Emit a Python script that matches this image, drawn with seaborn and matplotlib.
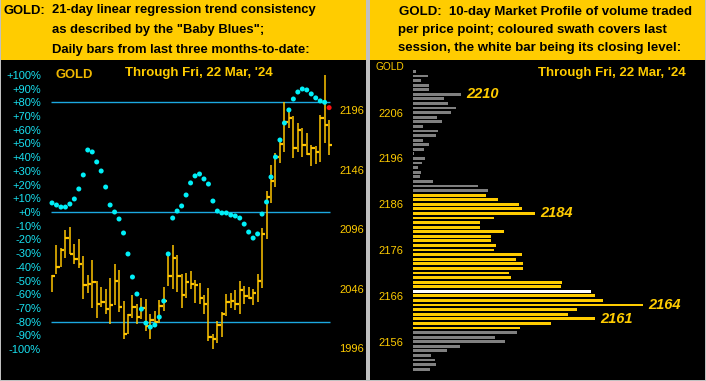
import numpy as np
import pandas as pd
import matplotlib
matplotlib.use("Agg")
import matplotlib.pyplot as plt
import seaborn as sns

# ---------------- data ----------------
bar_high = [2057.5, 2082.4, 2079.9, 2095.0, 2097.8, 2083.5, 2087.7, 2073.4, 2057.5, 2070.1,
            2052.5, 2047.4, 2045.7, 2054.7, 2066.7, 2061.7, 2035.7, 2024.8, 2040.7, 2032.9,
            2038.4, 2037.4, 2024.8, 2027.0, 2036.5, 2047.2, 2075.1, 2082.4, 2074.3, 2058.3,
            2058.9, 2060.8, 2053.3, 2050.5, 2040.7, 2046.6, 2008.0, 2018.7, 2026.5, 2041.6,
            2042.6, 2044.9, 2052.5, 2048.3, 2047.7, 2046.0, 2058.3, 2096.7, 2128.0, 2149.5,
            2160.1, 2170.7, 2202.4, 2195.3, 2190.9, 2185.0, 2180.6, 2176.4, 2166.5, 2165.7,
            2191.7, 2225.3, 2187.3]
bar_low = [2043.0, 2058.1, 2064.5, 2072.0, 2074.9, 2066.7, 2063.6, 2037.6, 2042.6, 2030.1,
           2021.7, 2030.9, 2024.8, 2016.6, 2032.3, 2026.7, 2004.1, 2008.0, 2021.7, 2016.6,
           2020.3, 2010.8, 2003.6, 2015.3, 2017.0, 2027.5, 2048.5, 2046.0, 2043.5, 2030.1,
           2038.2, 2045.7, 2034.3, 2033.4, 2024.8, 2002.1, 1995.7, 2000.7, 2005.7, 2023.3,
           2029.6, 2028.1, 2024.8, 2033.4, 2037.4, 2032.3, 2035.1, 2046.6, 2087.7, 2118.1,
           2131.3, 2151.7, 2160.4, 2181.1, 2155.9, 2160.9, 2156.7, 2158.2, 2149.2, 2150.4,
           2152.5, 2168.5, 2158.2]
bar_close = [2056.9, 2064.5, 2078.5, 2088.5, 2075.4, 2070.9, 2067.0, 2049.4, 2049.9, 2051.9,
             2033.2, 2035.1, 2029.2, 2032.3, 2052.7, 2030.9, 2008.0, 2024.2, 2030.9, 2022.5,
             2029.8, 2014.5, 2019.7, 2017.8, 2031.7, 2035.9, 2056.9, 2072.0, 2056.9, 2040.7,
             2051.9, 2050.2, 2049.1, 2038.4, 2033.2, 2005.2, 2004.1, 2015.5, 2024.8, 2035.1,
             2035.9, 2033.2, 2044.9, 2040.1, 2038.4, 2042.6, 2052.7, 2091.6, 2123.2, 2136.6,
             2156.5, 2167.6, 2186.1, 2189.5, 2164.3, 2179.4, 2166.8, 2159.0, 2164.0, 2160.9,
             2189.5, 2183.3, 2166.5]
trend_pct = [6.6, 5.1, 3.6, 3.6, 5.8, 9.5, 16.8, 27.0, 45.2, 43.8,
             36.5, 29.9, 18.2, 5.1, 0.0, -5.1, -15.3, -30.6, -47.4, -59.8,
             -70.8, -81.0, -83.9, -82.4, -76.6, -64.9, -30.6, -4.4, 0.7, 4.4,
             12.4, 21.2, 26.3, 27.7, 24.1, 20.4, 8.0, 0.7, -0.7, -0.7,
             -2.2, -2.9, -4.4, -8.8, -14.6, -19.0, -16.0, -1.5, 7.3, 25.5,
             40.1, 52.5, 64.9, 74.4, 82.4, 87.5, 89.7, 89.0, 86.1, 83.2,
             81.0, 80.0, 76.1]
month_labels = ["Dec'23", "Jan'24", "Feb'24"]
month_pos = [0, 21, 42]
pct_ticks = list(range(-100, 101, 10))
pct_levels = [80, 0, -80]
price_ticks = [1996, 2046, 2096, 2146, 2196]

mp_price = list(range(2215, 2149, -1))
mp_volume = [3, 15, 8, 16, 16, 48, 31, 35, 43, 38,
             24, 29, 10, 25, 23, 10, 16, 11, 1, 12,
             9, 5, 8, 7, 20, 65, 75, 73, 85, 106,
             109, 122, 81, 67, 67, 91, 78, 78, 83, 81,
             109, 103, 110, 110, 96, 98, 149, 148, 178, 182,
             190, 230, 164, 155, 182, 138, 107, 104, 82, 92,
             47, 34, 18, 22, 23, 17]
last_session_range = (2159, 2188)
close_level = 2167
mp_ticks = [2156, 2166, 2176, 2186, 2196, 2206]
mp_callouts = [2210, 2184, 2164, 2161]

# ---------------- style ----------------
plt.rcParams['font.family'] = ['Liberation Sans', 'DejaVu Sans']
GRAY_BG = '#C0C0C0'
HEAD = '#FFCC00'
CYAN_TXT = '#18E0F0'
CYAN_DOT = '#00F0F8'
LINE = '#1CA8E0'
BAR = '#FFC400'
YEL = '#FFCC00'

W, H = 706, 381
fig = plt.figure(figsize=(W / 100, H / 100), dpi=100, facecolor=GRAY_BG)


def px_axes(x0, y0, x1, y1, fc):
    ax = fig.add_axes([x0 / W, 1 - y1 / H, (x1 - x0) / W, (y1 - y0) / H])
    ax.set_facecolor(fc)
    for s in ax.spines.values():
        s.set_visible(False)
    return ax


def px_text(x, y, s, **kw):
    fig.text(x / W, 1 - y / H, s, **kw)


# ---------------- headers ----------------
for (x0, x1) in [(1, 366), (370, 705)]:
    h = px_axes(x0, 0, x1, 59.5, HEAD)
    h.set_xticks([]); h.set_yticks([])

hkw = dict(color='black', weight='bold', fontsize=9.4, va='baseline')
px_text(4, 13.5, "GOLD:", **hkw)
px_text(52, 13.5, "21-day linear regression trend consistency", **hkw)
px_text(52, 33.0, 'as described by the "Baby Blues";', **hkw)
px_text(52, 52.5, "Daily bars from last three months-to-date:", **hkw)
hkw2 = dict(hkw, fontsize=9.5)
px_text(399, 14.5, "GOLD:  10-day Market Profile of volume traded", **hkw2)
px_text(398, 33.0, "per price point; coloured swath covers last", **hkw2)
px_text(398, 51.0, "session, the white bar being its closing level:", **hkw2)

# ---------------- left chart ----------------
n = len(bar_close)
idx = np.arange(n)
axp = px_axes(1, 59.5, 366, 380, 'black')
axp.set_xlim(-11.41, 70.25)
axp.set_ylim(-122.5, 111.2)
axp.hlines(pct_levels, -0.3, n - 0.7, color=LINE, lw=1.0)
axp.set_yticks(pct_ticks, labels=[f"{v:+d}%" for v in pct_ticks])
axp.tick_params(axis='y', length=0, pad=-40 * 0.72, labelcolor=CYAN_TXT, labelsize=8.0)
axp.set_xticks(month_pos, labels=month_labels)
axp.tick_params(axis='x', length=0, pad=-21 * 0.72, labelcolor='white', labelsize=8.0)

axq = axp.twinx()
for s in axq.spines.values():
    s.set_visible(False)
axq.set_ylim(1969.4, 2238.3)
axq.vlines(idx, bar_low, bar_high, color=BAR, lw=1.1)
axq.hlines(bar_close, idx, idx + 0.75, color=BAR, lw=1.6)
axq.set_yticks(price_ticks, labels=[str(p) for p in price_ticks])
axq.tick_params(axis='y', length=0, pad=-27 * 0.72, labelcolor=YEL, labelsize=8.0)

axd = axp.twinx()
for s in axd.spines.values():
    s.set_visible(False)
axd.set_ylim(axp.get_ylim())
axd.set_yticks([])
dots = pd.DataFrame({"i": idx, "pct": trend_pct,
                     "kind": ["latest" if k == n - 1 else "trend" for k in idx]})
sns.scatterplot(data=dots, x="i", y="pct", hue="kind",
                palette={"trend": CYAN_DOT, "latest": "#FF1010"},
                s=13, linewidth=0, legend=False, ax=axd)
axd.set_xlim(axp.get_xlim())
axd.set_xlabel(""); axd.set_ylabel("")
axd.set_xticks([])

px_text(55, 75.5, "GOLD", color='#F0B800', weight='bold', fontsize=9.4, va='center')
px_text(125, 73.3, "Through Fri, 22 Mar, '24", color=YEL, weight='bold', fontsize=9.5, va='center')

# ---------------- right chart ----------------
def session_of(p):
    if p == close_level:
        return "close"
    if last_session_range[0] <= p <= last_session_range[1]:
        return "last"
    return "prior"

mp = pd.DataFrame({"price": mp_price, "volume": mp_volume,
                   "session": [session_of(p) for p in mp_price]})
axr = px_axes(370, 59.5, 705, 380, 'black')
sns.barplot(data=mp, x="volume", y="price", hue="session", orient="y",
            native_scale=True, dodge=False, width=0.62, saturation=1,
            palette={"prior": "#808080", "last": YEL, "close": "white"},
            legend=False, ax=axr)
axr.set_xlim(-43, 292)
axr.set_ylim(2147.64, 2217.6)
axr.set_xlabel(""); axr.set_ylabel("")
axr.set_xticks([])
axr.set_yticks(mp_ticks, labels=[str(p) for p in mp_ticks])
axr.tick_params(axis='y', length=0, pad=-33 * 0.72, labelcolor=YEL, labelsize=8.0)
vol_of = dict(zip(mp_price, mp_volume))
for p in mp_callouts:
    axr.text(vol_of[p] + 5, p, str(p), color=YEL, weight='bold', style='italic',
             fontsize=10.5, va='center', ha='left')

px_text(375, 67.3, "GOLD", color=YEL, fontsize=7.3, va='center')
px_text(538, 73.0, "Through Fri, 22 Mar, '24", color=YEL, weight='bold', fontsize=9.5, va='center')

fig.savefig("out.png", dpi=100, facecolor=GRAY_BG)
